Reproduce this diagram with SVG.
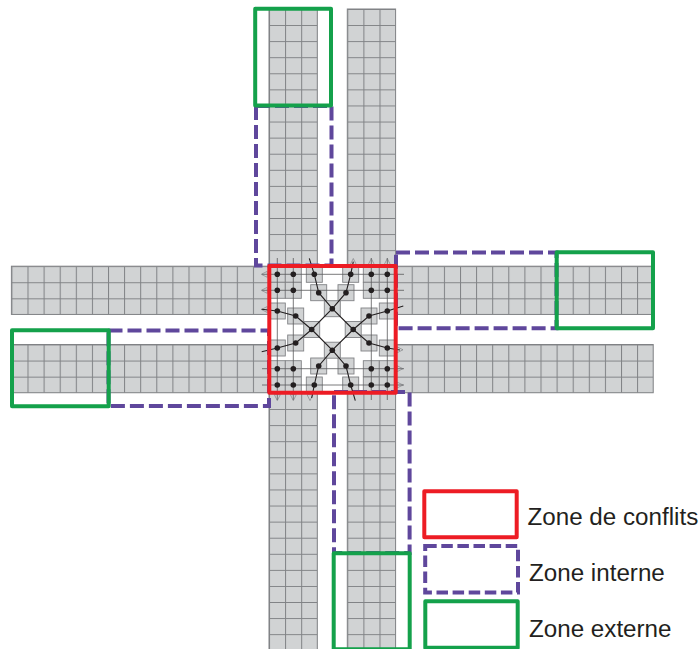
<svg xmlns="http://www.w3.org/2000/svg" width="700" height="649" viewBox="0 0 700 649">
<style>
.road{stroke:#808285;stroke-width:1}
.cell{fill:#d1d3d4;stroke:#808285;stroke-width:.9}
.thin{fill:none;stroke:#58595b;stroke-width:.8}
.arr{fill:none;stroke:#6d6e71;stroke-width:.55}
.path{fill:none;stroke:#231f20;stroke-width:1.1}
.dot{fill:#231f20}
.conf{fill:none;stroke:#ed1c24;stroke-width:4;stroke-linejoin:round}
.int{fill:none;stroke:#5f479c;stroke-width:4;stroke-dasharray:14 5}
.leg{stroke-dasharray:11.5 4.6}
.ext{fill:none;stroke:#14a14b;stroke-width:4;stroke-linejoin:round}
text{font-family:"Liberation Sans",Arial,sans-serif;font-size:24.2px;fill:#231f20}
</style>
<defs>
<pattern id="grid" patternUnits="userSpaceOnUse" x="0" y="0" width="16.1" height="16.08">
<rect width="16.1" height="16.08" fill="#d1d3d4"/>
<path d="M0 0H16.1M0 0V16.08" fill="none" stroke="#808285" stroke-width="2"/>
</pattern>
<rect id="c" class="cell" x="-8" y="-8" width="16" height="16"/>
<circle id="d" class="dot" r="2.8"/>
<path id="al" class="arr" d="M0 0L6 -3V3Z"/>
<path id="ar" class="arr" d="M0 0L-6 -3V3Z"/>
<path id="au" class="arr" d="M0 0L-3 6H3Z"/>
<path id="ad" class="arr" d="M0 0L-3 -6H3Z"/>
</defs>
<rect width="700" height="649" fill="#fff"/>
<g id="roads">
<rect class="road" fill="url(#grid)" transform="translate(269,9)" width="48.3" height="257.3"/>
<rect class="road" fill="url(#grid)" transform="translate(347.3,9)" width="48.3" height="257.3"/>
<rect class="road" fill="url(#grid)" transform="translate(269,393)" width="48.3" height="260"/>
<rect class="road" fill="url(#grid)" transform="translate(347.3,393)" width="48.3" height="260"/>
<rect class="road" fill="url(#grid)" transform="translate(11.4,266.2)" width="257.6" height="48.24"/>
<rect class="road" fill="url(#grid)" transform="translate(11.4,344.5)" width="257.6" height="48.24"/>
<rect class="road" fill="url(#grid)" transform="translate(395.6,266.2)" width="257.6" height="48.24"/>
<rect class="road" fill="url(#grid)" transform="translate(395.6,344.5)" width="257.6" height="48.24"/>
</g>
<g id="cells">
<use href="#c" x="277.3" y="274.3"/><use href="#c" x="293.3" y="274.3"/><use href="#c" x="277.3" y="290.3"/><use href="#c" x="293.3" y="290.3"/>
<use href="#c" x="371.3" y="274.3"/><use href="#c" x="387.3" y="274.3"/><use href="#c" x="371.3" y="290.3"/><use href="#c" x="387.3" y="290.3"/>
<use href="#c" x="277.3" y="368.7"/><use href="#c" x="293.3" y="368.7"/><use href="#c" x="277.3" y="385"/><use href="#c" x="293.3" y="385"/>
<use href="#c" x="371.3" y="368.7"/><use href="#c" x="387.3" y="368.7"/><use href="#c" x="371.3" y="385"/><use href="#c" x="387.3" y="385"/>
<use href="#c" x="314.3" y="274.3"/><use href="#c" x="318.7" y="292.7"/><use href="#c" x="332.3" y="308.7"/><use href="#c" x="311.7" y="329.5"/><use href="#c" x="295.7" y="316"/><use href="#c" x="277.3" y="311"/>
<use href="#c" x="350.7" y="274.3"/><use href="#c" x="346" y="292.7"/><use href="#c" x="387.3" y="311"/><use href="#c" x="369" y="316"/><use href="#c" x="353.2" y="329.5"/>
<use href="#c" x="332.3" y="350.2"/><use href="#c" x="277.3" y="348"/><use href="#c" x="295.7" y="343"/><use href="#c" x="318.7" y="366"/><use href="#c" x="314.3" y="385"/>
<use href="#c" x="369" y="343"/><use href="#c" x="387.3" y="348"/><use href="#c" x="346" y="366"/><use href="#c" x="350.7" y="385"/>
</g>
<g id="connectors">
<path class="thin" d="M262 274.3H404M262 290.3H404M262 368.7H404M262 385H404M277.3 258V400M293.3 258V400M371.3 258V400M387.3 258V400"/>
<use href="#al" x="261.3" y="274.3"/><use href="#al" x="261.3" y="290.3"/><use href="#al" x="261.3" y="309.5"/>
<use href="#au" x="353.3" y="258.5"/><use href="#au" x="371.3" y="258.5"/><use href="#au" x="387.3" y="258.5"/>
<use href="#ar" x="403" y="349.8"/><use href="#ar" x="403" y="368.7"/><use href="#ar" x="403" y="385"/>
<use href="#ad" x="277.3" y="400.6"/><use href="#ad" x="293.3" y="400.6"/><use href="#ad" x="310" y="400.6"/>
<path class="path" d="M309.3 258.3L314.3 274.3L318.7 292.7L332.3 308.7L353.2 329.5L369 343L387.3 348L400 350"/>
<path class="path" d="M261.7 351.7L277.3 348L295.7 343L311.7 329.5L332.3 308.7L346 292.7L350.7 274.3L353.3 261.7"/>
<path class="path" d="M403.3 306L387.3 311L369 316L353.2 329.5L332.3 350.2L318.7 366L314.3 385L311.7 398"/>
<path class="path" d="M261.7 309.3L277.3 311L295.7 316L311.7 329.5L332.3 350.2L346 366L350.7 385L355.3 400.7"/>
</g>
<g id="dots">
<use href="#d" x="277.3" y="274.3"/><use href="#d" x="293.3" y="274.3"/><use href="#d" x="277.3" y="290.3"/><use href="#d" x="293.3" y="290.3"/>
<use href="#d" x="371.3" y="274.3"/><use href="#d" x="387.3" y="274.3"/><use href="#d" x="371.3" y="290.3"/><use href="#d" x="387.3" y="290.3"/>
<use href="#d" x="277.3" y="368.7"/><use href="#d" x="293.3" y="368.7"/><use href="#d" x="277.3" y="385"/><use href="#d" x="293.3" y="385"/>
<use href="#d" x="371.3" y="368.7"/><use href="#d" x="387.3" y="368.7"/><use href="#d" x="371.3" y="385"/><use href="#d" x="387.3" y="385"/>
<use href="#d" x="314.3" y="274.3"/><use href="#d" x="318.7" y="292.7"/><use href="#d" x="332.3" y="308.7"/><use href="#d" x="311.7" y="329.5"/><use href="#d" x="295.7" y="316"/><use href="#d" x="277.3" y="311"/>
<use href="#d" x="350.7" y="274.3"/><use href="#d" x="346" y="292.7"/><use href="#d" x="387.3" y="311"/><use href="#d" x="369" y="316"/><use href="#d" x="353.2" y="329.5"/>
<use href="#d" x="332.3" y="350.2"/><use href="#d" x="277.3" y="348"/><use href="#d" x="295.7" y="343"/><use href="#d" x="318.7" y="366"/><use href="#d" x="314.3" y="385"/>
<use href="#d" x="369" y="343"/><use href="#d" x="387.3" y="348"/><use href="#d" x="346" y="366"/><use href="#d" x="350.7" y="385"/>
</g>
<g id="zone-interne">
<rect class="int" x="256" y="106" width="75.5" height="159.5"/>
<rect class="int" x="396" y="252.6" width="160.5" height="75.6"/>
<rect class="int" x="108.5" y="330.5" width="160.5" height="75.4"/>
<rect class="int" x="334" y="392" width="75.6" height="161"/>
</g>
<g id="zone-externe">
<rect class="ext" x="255.2" y="8.8" width="75.8" height="96.7"/>
<rect class="ext" x="556.7" y="252.3" width="96.3" height="76"/>
<rect class="ext" x="12" y="330.3" width="96.7" height="76"/>
<rect class="ext" x="333.7" y="553.3" width="76" height="96"/>
</g>
<g id="zone-conflits"><rect class="conf" x="269.3" y="266" width="126.4" height="126.7"/></g>
<g id="legend-conflits"><rect class="conf" x="424.3" y="491.3" width="92.4" height="46"/><text x="527.5" y="525">Zone de conflits</text></g>
<g id="legend-interne"><rect class="int leg" x="425.2" y="546" width="92.8" height="46.5"/><text x="529" y="581">Zone interne</text></g>
<g id="legend-externe"><rect class="ext" x="425.3" y="601.3" width="92.4" height="46.5"/><text x="529" y="637">Zone externe</text></g>
</svg>
